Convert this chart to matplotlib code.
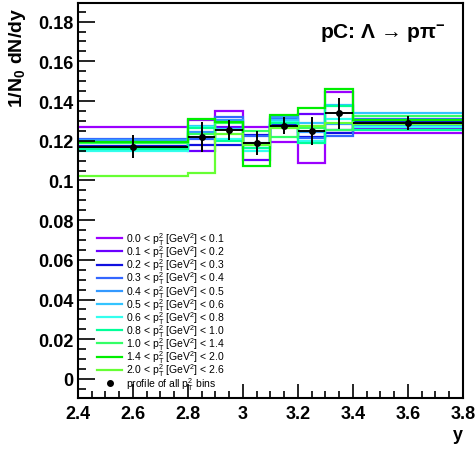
import numpy as np
import matplotlib
matplotlib.use("Agg")
import matplotlib.pyplot as plt
from matplotlib.ticker import MultipleLocator, FormatStrFormatter

plt.rcParams['font.family'] = ['Liberation Sans', 'DejaVu Sans']
plt.rcParams['mathtext.fontset'] = 'custom'
plt.rcParams['mathtext.rm'] = 'Liberation Sans'
plt.rcParams['mathtext.it'] = 'Liberation Sans:italic'
plt.rcParams['mathtext.bf'] = 'Liberation Sans:bold'

# bin edges in rapidity
edges = [2.4, 2.8, 2.9, 3.0, 3.1, 3.2, 3.3, 3.4, 3.8]

# pT^2 ranges and colours
pt_lo = ['0.0', '0.1', '0.2', '0.3', '0.4', '0.5', '0.6', '0.8', '1.0', '1.4', '2.0']
pt_hi = ['0.1', '0.2', '0.3', '0.4', '0.5', '0.6', '0.8', '1.0', '1.4', '2.0', '2.6']
colors = ['#9b00ff', '#6a00ff', '#1010e0', '#3366ff', '#3399ff', '#33c4ff',
          '#33ffee', '#00ff99', '#33ff66', '#00ee00', '#66ff33']

# dN/dy per pT^2 bin
s00 = [0.127, 0.1305, 0.135, 0.1268, 0.1196, 0.1087, 0.1444, 0.1238]
s01 = [0.117, 0.1147, 0.127, 0.1103, 0.128, 0.1335, 0.1255, 0.126]
s02 = [0.1175, 0.118, 0.118, 0.123, 0.128, 0.122, 0.124, 0.1298]
s03 = [0.121, 0.121, 0.1318, 0.1225, 0.131, 0.1213, 0.1226, 0.131]
s04 = [0.1205, 0.1245, 0.1305, 0.119, 0.132, 0.1245, 0.1282, 0.128]
s05 = [0.116, 0.1275, 0.126, 0.1165, 0.1305, 0.1288, 0.138, 0.134]
s06 = [0.115, 0.127, 0.121, 0.115, 0.1295, 0.12, 0.131, 0.1268]
s07 = [0.116, 0.1265, 0.12, 0.1165, 0.129, 0.119, 0.1375, 0.1254]
s08 = [0.119, 0.1235, 0.129, 0.125, 0.122, 0.1265, 0.1256, 0.1323]
s09 = [0.1195, 0.131, 0.1295, 0.1075, 0.1332, 0.1365, 0.1461, 0.1305]
s10 = [0.102, 0.1035, 0.1235, 0.118, 0.1265, 0.1275, 0.129, 0.1285]
series = [s00, s01, s02, s03, s04, s05, s06, s07, s08, s09, s10]

# profile of all pT bins
prof_y = [0.117, 0.1218, 0.1256, 0.1189, 0.1276, 0.1251, 0.1338, 0.129]
prof_err = [0.0057, 0.0077, 0.005, 0.006, 0.0044, 0.007, 0.0078, 0.0034]

fig = plt.figure(figsize=(4.77, 4.52), dpi=100)
ax = fig.add_axes([0.1635, 0.1173, 0.8071, 0.8739])

for vals, c, lo, hi in zip(series, colors, pt_lo, pt_hi):
    lab = lo + r' < p$_{\mathrm{T}}^{2}$ [GeV$^{2}$] < ' + hi
    ax.stairs(vals, edges, baseline=None, color=c, lw=1.6, label=lab)

e = np.array(edges)
xc = (e[:-1] + e[1:]) / 2
xw = (e[1:] - e[:-1]) / 2
ax.errorbar(xc, prof_y, xerr=xw, yerr=prof_err, fmt='o', color='black',
            ms=4, lw=1.4, capsize=0, zorder=5)
# legend entry for the profile: marker only
ax.plot([], [], 'o', color='black', ms=4, label=r'profile of all p$_{\mathrm{T}}^{2}$ bins')

ax.set_xlim(2.4, 3.8)
ax.set_ylim(-0.0096, 0.1894)

ax.xaxis.set_major_locator(MultipleLocator(0.2))
ax.xaxis.set_minor_locator(MultipleLocator(0.05))
ax.yaxis.set_major_locator(MultipleLocator(0.02))
ax.yaxis.set_minor_locator(MultipleLocator(0.005))
ax.xaxis.set_major_formatter(FormatStrFormatter('%g'))
ax.yaxis.set_major_formatter(FormatStrFormatter('%g'))
ax.tick_params(which='both', direction='in', top=False, right=False, width=1.2)
ax.tick_params(which='major', axis='y', length=12, pad=3)
ax.tick_params(which='minor', axis='y', length=6)
ax.tick_params(which='major', axis='x', length=10, pad=5)
ax.tick_params(which='minor', axis='x', length=5)
for lab in ax.get_xticklabels() + ax.get_yticklabels():
    lab.set_fontweight('bold')
    lab.set_fontsize(13)
for sp in ax.spines.values():
    sp.set_linewidth(1.5)

ax.set_xlabel('y', fontsize=13, fontweight='bold', loc='right')
ax.xaxis.set_label_coords(1.0, -0.072)
ax.set_ylabel(r'1/N$_{\mathbf{0}}$ dN/dy', fontsize=14, fontweight='bold', loc='top')
ax.yaxis.set_label_coords(-0.13, 0.99)

ax.text(0.955, 0.927, 'pC: Λ → pπ$^{\\mathbf{-}}$', transform=ax.transAxes,
        fontsize=15, fontweight='bold', ha='right', va='center')

leg = ax.legend(loc='upper left', bbox_to_anchor=(0.05, 0.425), frameon=False,
                fontsize=7.5, handlelength=2.4, handletextpad=0.4,
                labelspacing=-0.35, borderpad=0, borderaxespad=0)

fig.savefig('out.png', dpi=100)
